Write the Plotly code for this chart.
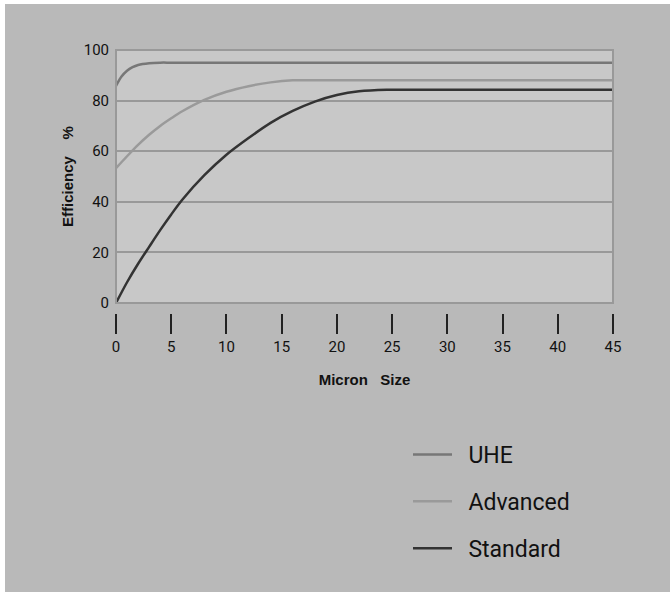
import plotly.graph_objects as go

# ---- data ----
uhe_x = [0, 0.5, 1, 1.5, 2, 3, 4, 5, 10, 15, 20, 25, 30, 35, 40, 45]
uhe_y = [85.8, 89.5, 91.8, 93.2, 94.1, 94.8, 95.0, 95.0, 95.0, 95.0, 95.0, 95.0, 95.0, 95.0, 95.0, 95.0]

adv_x = [0, 1, 2, 3, 4, 5, 6, 8, 10, 12, 14, 16, 18, 20, 25, 30, 35, 40, 45]
adv_y = [53.3, 58.0, 62.5, 66.5, 70.0, 73.0, 75.8, 80.3, 83.5, 85.7, 87.2, 88.0, 88.0, 88.0, 88.0, 88.0, 88.0, 88.0, 88.0]

std_x = [0, 1, 2, 3, 4, 5, 6, 8, 10, 12, 14, 16, 18, 20, 22, 24.5, 27, 30, 35, 40, 45]
std_y = [0, 8.2, 15.5, 22.2, 28.8, 35.0, 40.8, 50.5, 58.6, 65.2, 71.2, 75.9, 79.6, 82.2, 83.7, 84.3, 84.3, 84.3, 84.3, 84.3, 84.3]

x_ticks = [0, 5, 10, 15, 20, 25, 30, 35, 40, 45]
y_ticks = [0, 20, 40, 60, 80, 100]

series_names = ["UHE", "Advanced", "Standard"]
series_colors = ["#777777", "#9a9a9a", "#333333"]

FONT = "Roboto, Liberation Sans, sans-serif"
BOLD = "Liberation Sans, Arial, sans-serif"

fig = go.Figure()
for i, (name, xs, ys, col) in enumerate(zip(series_names, [uhe_x, adv_x, std_x],
                                            [uhe_y, adv_y, std_y], series_colors)):
    fig.add_trace(go.Scatter(
        x=xs, y=ys, name="  " + name, mode="lines",
        line=dict(color=col, width=2.5, shape="spline", smoothing=0.8),
        legendgroup=f"g{i}",
    ))

W, H = 670, 592
L, R, T, B = 116, 57, 50, 279
pw, ph = W - L - R, H - T - B

fig.update_layout(
    width=W, height=H,
    margin=dict(l=L, r=R, t=T, b=B),
    paper_bgcolor="#b9b9b9",
    plot_bgcolor="#c8c8c8",
    showlegend=True,
    legend=dict(
        x=(408 - L) / pw, y=(313 - 433) / ph, xanchor="left", yanchor="top",
        font=dict(family=FONT, size=23, color="#111111"),
        bgcolor="rgba(0,0,0,0)", tracegroupgap=14, itemwidth=39,
    ),
    xaxis=dict(
        range=[0, 45], tickvals=x_ticks, ticks="outside", ticklen=20,
        tickwidth=1.5, tickcolor="#222222", showline=False, showgrid=False,
        zeroline=False, anchor="free", position=0,
        tickfont=dict(family=FONT, size=15, color="#111111"),
        title=dict(text="<b>Micron   Size</b>", font=dict(family=BOLD, size=15, color="#111111"), standoff=19),
    ),
    yaxis=dict(
        range=[0, 100], tickvals=y_ticks, domain=[10 / ph, 1],
        showgrid=True, gridcolor="#999999", gridwidth=2, zeroline=False,
        showline=False, ticks="", ticklabelstandoff=6,
        tickfont=dict(family=FONT, size=15, color="#111111"),
        title=dict(text="<b>Efficiency    %</b>", font=dict(family=BOLD, size=15, color="#111111"), standoff=6),
    ),
    shapes=[
        dict(type="rect", xref="x domain", yref="y domain", x0=0, x1=1, y0=0, y1=1,
             line=dict(color="#999999", width=2), layer="above"),
        dict(type="rect", xref="paper", yref="paper", x0=-L / pw, x1=(5 - L) / pw,
             y0=-B / ph, y1=1 + T / ph, line=dict(width=0), fillcolor="#ffffff", layer="below"),
        dict(type="rect", xref="paper", yref="paper", x0=-L / pw, x1=1 + R / pw,
             y0=1 + (T - 4) / ph, y1=1 + T / ph, line=dict(width=0), fillcolor="#ffffff", layer="below"),
    ],
)

fig.write_html("out.html", config={"displayModeBar": False},
               post_script="document.body.style.margin='0px';document.body.style.overflow='hidden';")
